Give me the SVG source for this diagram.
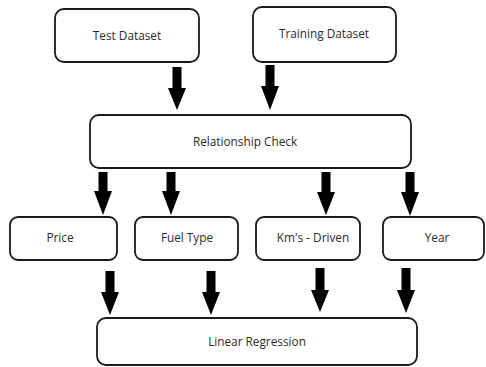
<svg xmlns="http://www.w3.org/2000/svg" width="486" height="367" viewBox="0 0 486 367">
<style>
.box{fill:#fff;stroke:#1a1a1a;stroke-width:1.8}
.lbl{font-family:"Open Sans","Liberation Sans",sans-serif;font-size:11.8px;fill:#2b2b2b;text-anchor:middle}
.arr{fill:#000}
</style>
<rect width="486" height="367" fill="#fff"/>
<g id="test-dataset"><rect class="box" x="55" y="9" width="144" height="53" rx="9"/><text class="lbl" x="127" y="40">Test Dataset</text></g>
<g id="training-dataset"><rect class="box" x="253" y="7" width="143" height="55" rx="9"/><text class="lbl" x="324" y="38">Training Dataset</text></g>
<g id="relationship-check"><rect class="box" x="90" y="115" width="321" height="53" rx="9"/><text class="lbl" x="245" y="146">Relationship Check</text></g>
<g id="price"><rect class="box" x="10" y="217" width="107" height="43" rx="8"/><text class="lbl" x="60" y="242">Price</text></g>
<g id="fuel-type"><rect class="box" x="135" y="217" width="103" height="43" rx="8"/><text class="lbl" x="187" y="242">Fuel Type</text></g>
<g id="kms-driven"><rect class="box" x="256" y="217" width="104" height="43" rx="8"/><text class="lbl" x="313" y="242">Km's - Driven</text></g>
<g id="year"><rect class="box" x="383" y="217" width="101" height="43" rx="8"/><text class="lbl" x="437" y="242">Year</text></g>
<g id="linear-regression"><rect class="box" x="97" y="318" width="320" height="47" rx="9"/><text class="lbl" x="257" y="346">Linear Regression</text></g>
<g id="connectors">
<polygon class="arr" points="172.5,67 181.5,67 181.5,88 186,88 177,110 168,88 172.5,88"/>
<polygon class="arr" points="265.5,65 274.5,65 274.5,86 279,86 270,110 261,86 265.5,86"/>
<polygon class="arr" points="98.5,172 107.5,172 107.5,191 112,191 103,215 94,191 98.5,191"/>
<polygon class="arr" points="166.5,172 175.5,172 175.5,191 180,191 171,215 162,191 166.5,191"/>
<polygon class="arr" points="321.5,172 330.5,172 330.5,192 335,192 326,215 317,192 321.5,192"/>
<polygon class="arr" points="405.5,172 414.5,172 414.5,192 419,192 410,216 401,192 405.5,192"/>
<polygon class="arr" points="105.5,271 114.5,271 114.5,292 119,292 110,315 101,292 105.5,292"/>
<polygon class="arr" points="206.5,271 215.5,271 215.5,292 220,292 211,315 202,292 206.5,292"/>
<polygon class="arr" points="315.5,268 324.5,268 324.5,290 329,290 320,312 311,290 315.5,290"/>
<polygon class="arr" points="401.5,268 410.5,268 410.5,290 415,290 406,313 397,290 401.5,290"/>
</g>
</svg>
